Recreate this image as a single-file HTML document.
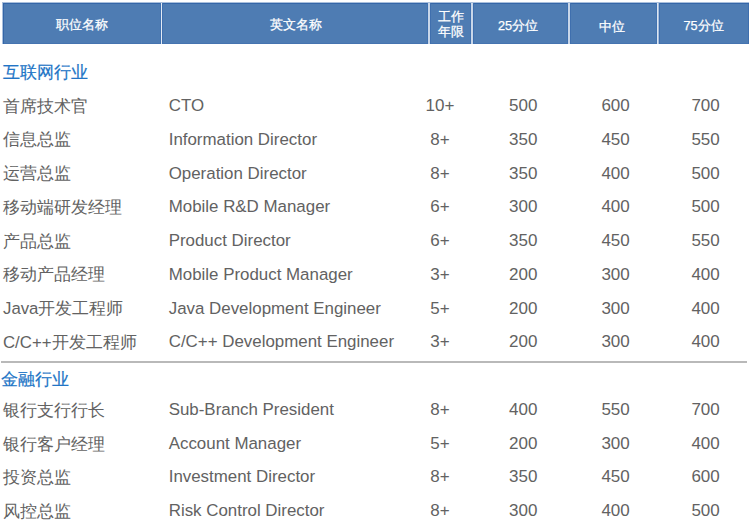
<!DOCTYPE html>
<html><head><meta charset="utf-8"><style>
html,body{margin:0;padding:0;background:#fff;}
body{width:750px;height:529px;position:relative;overflow:hidden;font-family:"Liberation Sans",sans-serif;}
.hd{position:absolute;left:2px;top:2px;width:747px;height:42px;background:#4e7cb3;box-sizing:border-box;border-top:1px solid #a9bfdc;border-left:1px solid #a9bfdc;box-shadow:inset 1px 1px 0 #3466a8,inset -1px 0 0 #3f6fae,inset 0 -1px 0 #4574b0;}
.sep{position:absolute;top:3px;height:41px;background:#c8d6e9;box-shadow:-1px 0 0 #4172b0,1px 0 0 #3f6fae;}
.ht{position:absolute;color:#fff;font-size:12.7px;line-height:14.5px;text-align:center;font-weight:normal;-webkit-text-stroke:0.25px #fff;white-space:nowrap;}
.sec{position:absolute;left:2px;color:#2275c6;font-size:16.7px;-webkit-text-stroke:0.2px #2275c6;line-height:20px;white-space:nowrap;}
.r{position:absolute;left:0;width:750px;height:20px;color:#626262;font-size:17px;line-height:20px;}
.r>span{position:absolute;top:0;white-space:nowrap;}
i.z{font-style:normal;letter-spacing:var(--zls,0);}
.c1{left:3px;top:0.7px !important;font-size:16.8px;}
.c2{left:168.7px;font-size:16.9px;}
.n{width:60px;text-align:center;}
.line{position:absolute;left:1px;top:361px;width:746px;height:2px;background:#b9b9b9;}
</style></head><body>
<div class="hd"></div>
<div class="sep" style="left:161px;width:1px;background:#e3eaf4"></div>
<div class="sep" style="left:428px;width:2px"></div>
<div class="sep" style="left:471px;width:2px"></div>
<div class="sep" style="left:568px;width:2px"></div>
<div class="sep" style="left:657px;width:2px;background:linear-gradient(90deg,#dce5f1 50%,#a6bddb 50%)"></div>
<div class="ht" style="left:2px;width:159px;top:17.5px"><i class="z">职位名称</i></div>
<div class="ht" style="left:162px;width:267px;top:17.5px"><i class="z">英文名称</i></div>
<div class="ht" style="left:430px;width:42px;top:9.5px;line-height:15px"><i class="z">工作</i><br><i class="z">年限</i></div>
<div class="ht" style="left:470px;width:96px;top:19px">25<i class="z">分位</i></div>
<div class="ht" style="left:568.5px;width:87px;top:19.5px"><i class="z">中位</i></div>
<div class="ht" style="left:658px;width:91px;top:19px">75<i class="z">分位</i></div>
<div class="sec" style="top:62.8px;left:3px"><i class="z">互联网行业</i></div>
<div class="r" style="top:96.00px"><span class="c1"><i class="z">首席技术官</i></span><span class="c2">CTO</span><span class="n" style="left:410.0px">10+</span><span class="n" style="left:493.3px">500</span><span class="n" style="left:585.6px">600</span><span class="n" style="left:675.6px">700</span></div>
<div class="r" style="top:129.76px"><span class="c1"><i class="z">信息总监</i></span><span class="c2">Information Director</span><span class="n" style="left:410.0px">8+</span><span class="n" style="left:493.3px">350</span><span class="n" style="left:585.6px">450</span><span class="n" style="left:675.6px">550</span></div>
<div class="r" style="top:163.52px"><span class="c1"><i class="z">运营总监</i></span><span class="c2">Operation Director</span><span class="n" style="left:410.0px">8+</span><span class="n" style="left:493.3px">350</span><span class="n" style="left:585.6px">400</span><span class="n" style="left:675.6px">500</span></div>
<div class="r" style="top:197.28px"><span class="c1"><i class="z">移动端研发经理</i></span><span class="c2">Mobile R&amp;D Manager</span><span class="n" style="left:410.0px">6+</span><span class="n" style="left:493.3px">300</span><span class="n" style="left:585.6px">400</span><span class="n" style="left:675.6px">500</span></div>
<div class="r" style="top:231.04px"><span class="c1"><i class="z">产品总监</i></span><span class="c2">Product Director</span><span class="n" style="left:410.0px">6+</span><span class="n" style="left:493.3px">350</span><span class="n" style="left:585.6px">450</span><span class="n" style="left:675.6px">550</span></div>
<div class="r" style="top:264.80px"><span class="c1"><i class="z">移动产品经理</i></span><span class="c2">Mobile Product Manager</span><span class="n" style="left:410.0px">3+</span><span class="n" style="left:493.3px">200</span><span class="n" style="left:585.6px">300</span><span class="n" style="left:675.6px">400</span></div>
<div class="r" style="top:298.56px"><span class="c1">Java<i class="z">开发工程师</i></span><span class="c2">Java Development Engineer</span><span class="n" style="left:410.0px">5+</span><span class="n" style="left:493.3px">200</span><span class="n" style="left:585.6px">300</span><span class="n" style="left:675.6px">400</span></div>
<div class="r" style="top:332.32px"><span class="c1">C/C++<i class="z">开发工程师</i></span><span class="c2">C/C++ Development Engineer</span><span class="n" style="left:410.0px">3+</span><span class="n" style="left:493.3px">200</span><span class="n" style="left:585.6px">300</span><span class="n" style="left:675.6px">400</span></div>
<div class="line"></div>
<div class="sec" style="top:369.6px;left:0.5px"><i class="z">金融行业</i></div>
<div class="r" style="top:400.20px"><span class="c1"><i class="z">银行支行行长</i></span><span class="c2">Sub-Branch President</span><span class="n" style="left:410.0px">8+</span><span class="n" style="left:493.3px">400</span><span class="n" style="left:585.6px">550</span><span class="n" style="left:675.6px">700</span></div>
<div class="r" style="top:433.83px"><span class="c1"><i class="z">银行客户经理</i></span><span class="c2">Account Manager</span><span class="n" style="left:410.0px">5+</span><span class="n" style="left:493.3px">200</span><span class="n" style="left:585.6px">300</span><span class="n" style="left:675.6px">400</span></div>
<div class="r" style="top:467.46px"><span class="c1"><i class="z">投资总监</i></span><span class="c2">Investment Director</span><span class="n" style="left:410.0px">8+</span><span class="n" style="left:493.3px">350</span><span class="n" style="left:585.6px">450</span><span class="n" style="left:675.6px">600</span></div>
<div class="r" style="top:501.09px"><span class="c1"><i class="z">风控总监</i></span><span class="c2">Risk Control Director</span><span class="n" style="left:410.0px">8+</span><span class="n" style="left:493.3px">300</span><span class="n" style="left:585.6px">400</span><span class="n" style="left:675.6px">500</span></div>
<script>
(function(){var t=document.createElement('span');t.style.cssText='position:absolute;left:0;top:0;visibility:hidden;white-space:nowrap;font-size:100px;font-family:"Liberation Sans",sans-serif';t.textContent='职位名称';document.body.appendChild(t);var w=t.getBoundingClientRect().width/400;document.body.removeChild(t);if(w>0.2&&w<0.92){document.documentElement.style.setProperty('--zls',(1-w).toFixed(3)+'em');}})();
</script>
</body></html>
